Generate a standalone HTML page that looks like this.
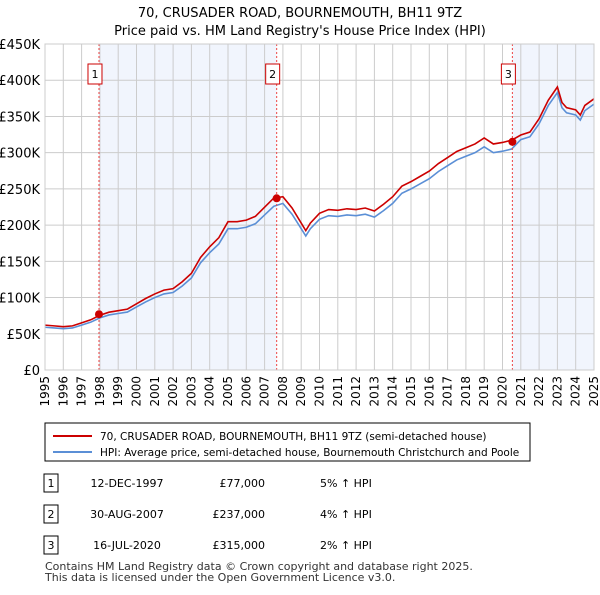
<!DOCTYPE html>
<html><head><meta charset="utf-8"><style>
body{margin:0;background:#fff;font-family:"Liberation Sans","DejaVu Sans",sans-serif;}
svg text{font-family:"DejaVu Sans","Liberation Sans",sans-serif;}
</style></head><body>
<svg id="c" width="600" height="590" xmlns="http://www.w3.org/2000/svg">
<text x="300" y="17" font-size="13" text-anchor="middle">70, CRUSADER ROAD, BOURNEMOUTH, BH11 9TZ</text>
<text x="300" y="35" font-size="13" text-anchor="middle">Price paid vs. HM Land Registry's House Price Index (HPI)</text>
<g id="plot"></g>
<g>
<rect x="45" y="423" width="485" height="38" fill="#fff" stroke="#000" stroke-width="1"/>
<line x1="53" y1="436" x2="92" y2="436" stroke="#cc0000" stroke-width="2"/>
<text x="100" y="440" font-size="10.5">70, CRUSADER ROAD, BOURNEMOUTH, BH11 9TZ (semi-detached house)</text>
<line x1="53" y1="452" x2="92" y2="452" stroke="#5b8fd6" stroke-width="2"/>
<text x="100" y="456" font-size="10.5">HPI: Average price, semi-detached house, Bournemouth Christchurch and Poole</text>
</g>
<g id="tbl" font-size="11"></g>
<text x="45" y="570" font-size="11" fill="#333">Contains HM Land Registry data © Crown copyright and database right 2025.</text>
<text x="45" y="581" font-size="11" fill="#333">This data is licensed under the Open Government Licence v3.0.</text>
</svg>
<script>
const years=[1995,1995.5,1996,1996.5,1997,1997.5,1998,1998.5,1999,1999.5,2000,2000.5,2001,2001.5,2002,2002.5,2003,2003.5,2004,2004.5,2005,2005.5,2006,2006.5,2007,2007.5,2008,2008.5,2009,2009.25,2009.5,2010,2010.5,2011,2011.5,2012,2012.5,2013,2013.5,2014,2014.5,2015,2015.5,2016,2016.5,2017,2017.5,2018,2018.5,2019,2019.5,2020,2020.5,2021,2021.5,2022,2022.5,2023,2023.25,2023.5,2024,2024.25,2024.5,2025];
const hpi=[59,58,57,58,62,66,72,76,78,80,87,94,100,105,107,116,127,148,162,174,195,195,197,202,214,226,230,215,195,185,195,208,213,212,214,213,215,211,220,230,244,250,257,264,274,282,290,295,300,308,300,302,305,318,322,340,365,383,362,355,352,345,358,367];
const saleYears=[1997.95,2007.66,2020.54];
const salePrices=[77,237,315];
const saleLabels=["1","2","3"];
const saleDates=["12-DEC-1997","30-AUG-2007","16-JUL-2020"];
const salePriceText=["£77,000","£237,000","£315,000"];
const saleHpiText=["5% ↑ HPI","4% ↑ HPI","2% ↑ HPI"];
const yTicks=[0,50,100,150,200,250,300,350,400,450];
const yTickLabels=["£0","£50K","£100K","£150K","£200K","£250K","£300K","£350K","£400K","£450K"];
const ratios=[1.05,1.04,1.02];

const X0=45,X1=594,Y0=370,Y1=44;
const xs=y=>X0+(y-1995)/(2025-1995)*(X1-X0);
const ys=v=>Y0-v/450*(Y0-Y1);
const NS="http://www.w3.org/2000/svg";
const plot=document.getElementById('plot');
function mk(tag,attrs,parent){const e=document.createElementNS(NS,tag);for(const k in attrs)e.setAttribute(k,attrs[k]);(parent||plot).appendChild(e);return e;}

let r=mk('rect',{x:xs(saleYears[0]),y:Y1,width:xs(saleYears[1])-xs(saleYears[0]),height:Y0-Y1,fill:'#eef3fc',opacity:0.8});


r=mk('rect',{x:xs(saleYears[2]),y:Y1,width:X1-xs(saleYears[2]),height:Y0-Y1,fill:'#eef3fc',opacity:0.8});



for(let y=1995;y<=2025;y++){
 const l=mk('line',{x1:xs(y),x2:xs(y),y1:Y1,y2:Y0,stroke:'#cccccc','stroke-width':1});
 
 
 const t=mk('text',{x:0,y:0,'font-size':12,'text-anchor':'end',transform:`translate(${xs(y)+4},${Y0+6}) rotate(-90)`});
 t.textContent=y;
 
 
}
yTicks.forEach((v,i)=>{
 const l=mk('line',{x1:X0,x2:X1,y1:ys(v),y2:ys(v),stroke:'#cccccc','stroke-width':1});
 
 
 const t=mk('text',{x:40,y:ys(v)+5,'font-size':13,'text-anchor':'end'});
 t.textContent=yTickLabels[i];
 
 
});

function ratioAt(y){if(y<saleYears[1])return ratios[0];if(y<saleYears[2])return ratios[1];return ratios[2];}
const hp=mk('polyline',{points:years.map((y,i)=>xs(y)+','+ys(hpi[i])).join(' '),fill:'none',stroke:'#5b8fd6','stroke-width':1.6});


const rp=mk('polyline',{points:years.map((y,i)=>xs(y)+','+ys(hpi[i]*ratioAt(y))).join(' '),fill:'none',stroke:'#cc0000','stroke-width':1.6});



saleYears.forEach((y,i)=>{
 const l=mk('line',{x1:xs(y),x2:xs(y),y1:Y1,y2:Y0,stroke:'#ee4444','stroke-width':1,'stroke-dasharray':'2,2'});
 
 
 const b=mk('rect',{x:xs(y)-11,y:64,width:14,height:20,fill:'#fff',stroke:'#cc0000'});
 
 
 const t=mk('text',{x:xs(y)-4,y:78,'font-size':11,'text-anchor':'middle'});
 t.textContent=saleLabels[i];
 
 
 const d=mk('circle',{cx:xs(y),cy:ys(salePrices[i]),r:4,fill:'#cc0000'});
 
 
});
const ax=mk('rect',{x:X0,y:Y1,width:X1-X0,height:Y0-Y1,fill:'none',stroke:'#cccccc'});



const tbl=document.getElementById('tbl');
const rowY=[487,518,549];
saleLabels.forEach((s,i)=>{
 const b=mk('rect',{x:44,y:rowY[i]-13,width:14,height:18,fill:'#fff',stroke:'#000'},tbl);
 
 
 const cells=[[51,s,'middle'],[127,saleDates[i],'middle'],[265,salePriceText[i],'end'],[320,saleHpiText[i],'start']];
 cells.forEach(c=>{const t=mk('text',{x:c[0],y:rowY[i],'text-anchor':c[2]},tbl);t.textContent=c[1];
 
 });
});
</script>
</body></html>
